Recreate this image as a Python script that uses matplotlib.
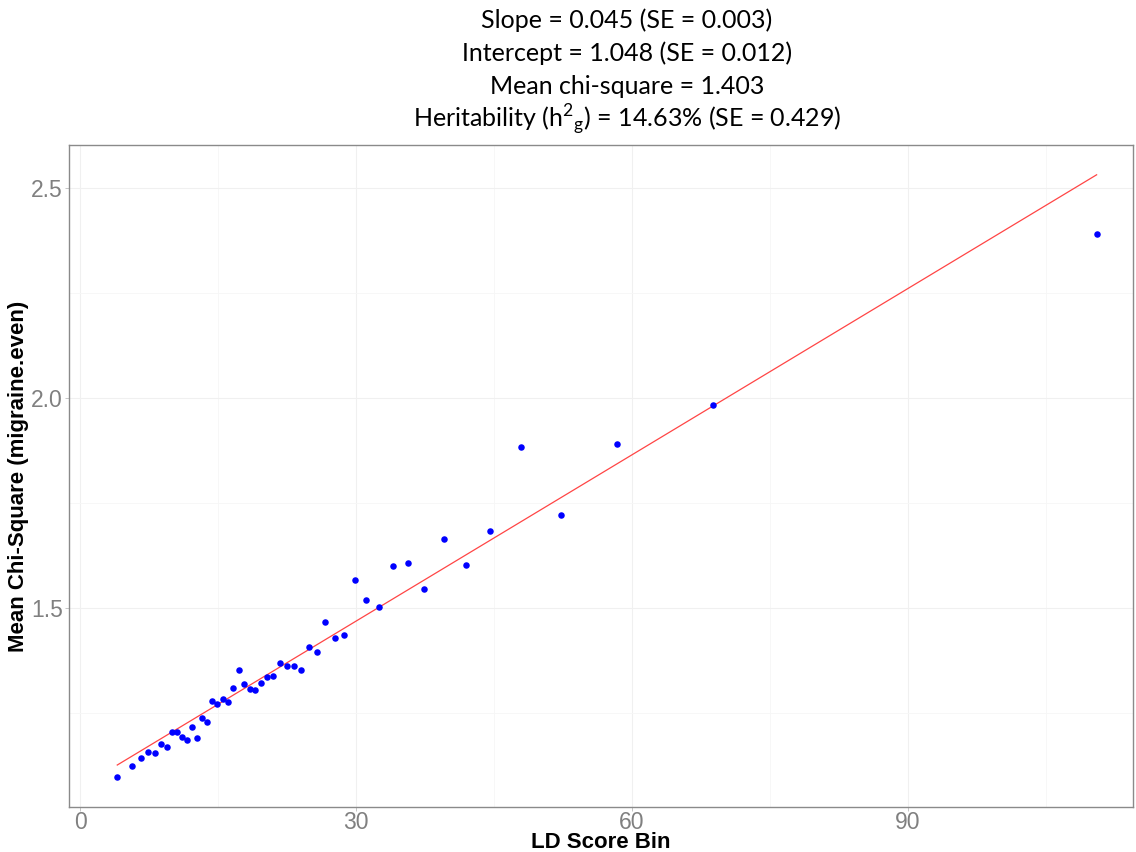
import matplotlib.pyplot as plt
import numpy as np

# mean LD score per bin and mean chi-square per bin
ld_score = [4.05, 5.65, 6.63, 7.42, 8.15, 8.77, 9.42, 9.97, 10.58, 11.12,
            11.66, 12.21, 12.75, 13.29, 13.84, 14.38, 14.92, 15.49, 16.05, 16.61,
            17.23, 17.79, 18.45, 19.05, 19.71, 20.36, 21.01, 21.76, 22.48, 23.26,
            24.02, 24.89, 25.79, 26.68, 27.72, 28.73, 29.87, 31.12, 32.50, 33.99,
            35.62, 37.42, 39.53, 41.96, 44.60, 47.90, 52.28, 58.40, 68.80, 110.5]
mean_chisq = [1.098, 1.123, 1.142, 1.158, 1.154, 1.175, 1.170, 1.204, 1.204, 1.192,
              1.185, 1.216, 1.190, 1.239, 1.229, 1.278, 1.271, 1.283, 1.277, 1.310,
              1.351, 1.318, 1.306, 1.305, 1.321, 1.335, 1.337, 1.369, 1.361, 1.361,
              1.351, 1.408, 1.395, 1.467, 1.428, 1.435, 1.567, 1.518, 1.502, 1.600,
              1.608, 1.545, 1.665, 1.601, 1.684, 1.884, 1.720, 1.890, 1.984, 2.389]

# fitted line as drawn
fit_slope = 0.0132
fit_intercept = 1.0725

x_ticks = [0, 30, 60, 90]
y_ticks = [1.5, 2.0, 2.5]

title_lines = ["Slope = 0.045 (SE = 0.003)",
               "Intercept = 1.048 (SE = 0.012)",
               "Mean chi-square = 1.403",
               r"Heritability (h$^\mathregular{2}{}_\mathregular{g}$) = 14.63% (SE = 0.429)"]

fig = plt.figure(figsize=(11.36, 8.52), dpi=100)
ax = fig.add_axes([0.0603, 0.0528, 0.9371, 0.777])

x = np.array(ld_score)
y = np.array(mean_chisq)

xl = np.array([x.min(), x.max()])
ax.plot(xl, fit_intercept + fit_slope * xl, color='#ff4545', linewidth=0.9, zorder=2)
ax.scatter(x, y, s=22, color='blue', linewidths=0, zorder=3)

ax.set_xlim(-1.25, 114.46)
ax.set_ylim(1.026, 2.602)
ax.set_xticks(x_ticks)
ax.set_yticks(y_ticks)
ax.set_yticklabels(['1.5', '2.0', '2.5'])
ax.set_xticks([15, 45, 75, 105], minor=True)
ax.set_yticks([1.25, 1.75, 2.25], minor=True)
ax.grid(True, which='major', color='#f0f0f0', linewidth=0.8)
ax.grid(True, which='minor', color='#f6f6f6', linewidth=0.6)
ax.set_axisbelow(True)
ax.tick_params(which='minor', length=0)
ax.tick_params(which='major', length=3, width=0.6, color='#bbbbbb',
               labelcolor='#808080', labelsize=16.5, pad=1)
ax.tick_params(axis='x', pad=0)
for t in ax.get_xticklabels() + ax.get_yticklabels():
    t.set_family('Liberation Sans')

for s in ax.spines.values():
    s.set_color('#8a8a8a')
    s.set_linewidth(1.0)

ax.set_xlabel('LD Score Bin', fontsize=16, fontweight='bold', family='Liberation Sans')
ax.set_ylabel('Mean Chi-Square (migraine.even)', fontsize=16, fontweight='bold',
              family='Liberation Sans')
ax.xaxis.set_label_coords(0.5, -0.038)
ax.yaxis.set_label_coords(-0.037, 0.5)

line_y = [20, 53, 86, 120]
for txt, py in zip(title_lines, line_y):
    fig.text(0.552, 1 - py / 852, txt, ha='center', va='center', fontsize=18,
             family='Lato')

plt.savefig('out.png', dpi=100)
